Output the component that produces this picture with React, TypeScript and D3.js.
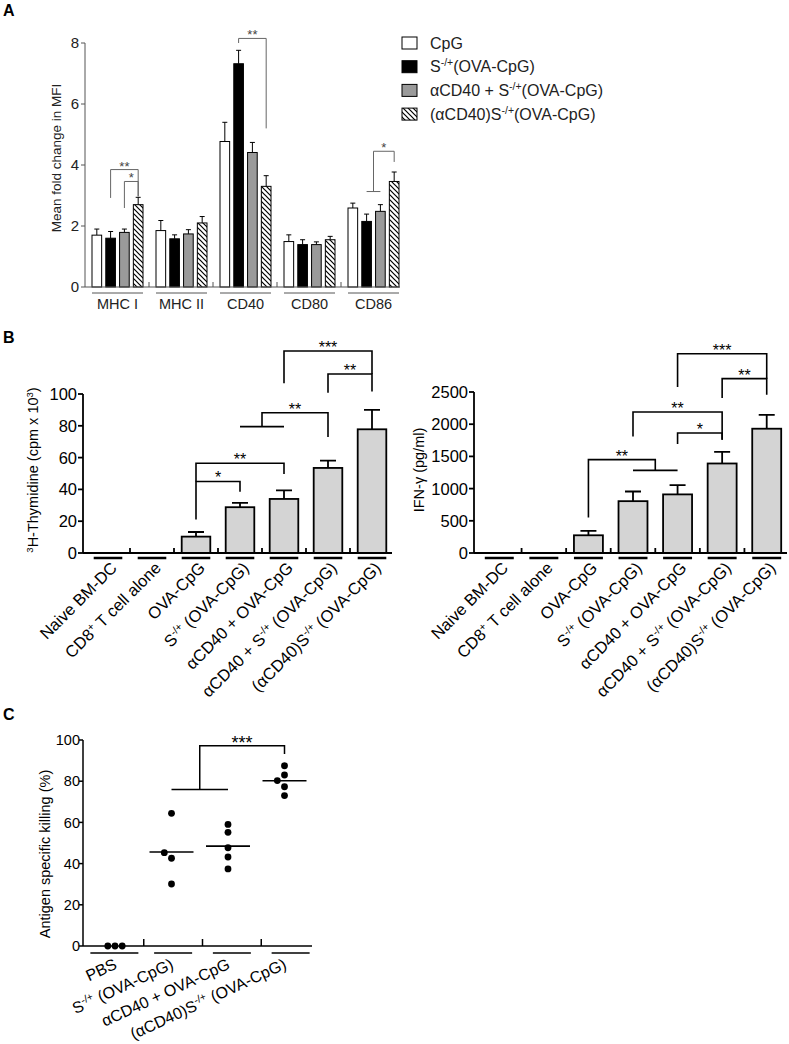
import React from "react";
import * as d3 from "d3";

const FONT = "'Liberation Sans', Arial, Helvetica, sans-serif";

// ---------- Panel A data ----------
const markers = ["MHC I", "MHC II", "CD40", "CD80", "CD86"];
const treatmentsA = ["CpG", "S^{-/+}(OVA-CpG)", "αCD40 + S^{-/+}(OVA-CpG)", "(αCD40)S^{-/+}(OVA-CpG)"];
const cpgMean = [1.7, 1.85, 4.77, 1.49, 2.59];
const cpgSem = [0.2, 0.33, 0.63, 0.22, 0.16];
const sMean = [1.6, 1.58, 7.32, 1.39, 2.15];
const sSem = [0.22, 0.13, 0.44, 0.16, 0.24];
const comboMean = [1.79, 1.74, 4.41, 1.39, 2.48];
const comboSem = [0.11, 0.14, 0.33, 0.09, 0.22];
const conjMean = [2.7, 2.1, 3.3, 1.55, 3.46];
const conjSem = [0.24, 0.21, 0.35, 0.11, 0.31];
const yTicksA = [0, 2, 4, 6, 8];
const sigA = [
  { group: 0, left: [1], right: [3], top: 3.85, leftEnd: 2.92, rightEnd: 2.97, label: "**" },
  { group: 0, left: [2], right: [3], top: 3.46, leftEnd: 2.59, rightEnd: 2.97, label: "*" },
  { group: 2, left: [1], right: [3], top: 8.15, leftEnd: 8.0, rightEnd: 5.2, label: "**" },
  { group: 4, left: [1, 2], right: [3], top: 4.45, leftEnd: 3.13, rightEnd: 4.1, label: "*" },
];

// ---------- Panel B data ----------
const categoriesB = [
  "Naive BM-DC",
  "CD8^{+} T cell alone",
  "OVA-CpG",
  "S^{-/+} (OVA-CpG)",
  "αCD40 + OVA-CpG",
  "αCD40 + S^{-/+} (OVA-CpG)",
  "(αCD40)S^{-/+} (OVA-CpG)",
];
const thymidineMean = [0, 0, 10.3, 28.8, 34, 53.5, 77.8];
const thymidineSem = [0, 0, 2.9, 2.7, 5.4, 4.6, 12.2];
const yTicksB1 = [0, 20, 40, 60, 80, 100];
const ifnMean = [0, 0, 275, 805, 910, 1390, 1930];
const ifnSem = [0, 0, 70, 150, 145, 180, 215];
const yTicksB2 = [0, 500, 1000, 1500, 2000, 2500];
const sigB1 = [
  { left: [2], right: [3], top: 45, leftEnd: 21, rightEnd: 38.5, label: "*" },
  { left: [2], right: [4], top: 56.4, leftEnd: 45, rightEnd: 49.7, label: "**" },
  { left: [3, 4], right: [5], top: 88.2, leftEnd: 79.5, rightEnd: 73, label: "**" },
  { left: [5], right: [6], top: 112.6, leftEnd: 100.8, rightEnd: 101.5, label: "**" },
  { left: [4], right: [6], top: 127, leftEnd: 106.7, rightEnd: 112.6, label: "***" },
];
const sigB2 = [
  { left: [2], right: [3, 4], top: 1450, leftEnd: 553, rightEnd: 1283, label: "**" },
  { left: [4], right: [5], top: 1863, leftEnd: 1692, rightEnd: 1760, label: "*" },
  { left: [3], right: [5], top: 2190, leftEnd: 1810, rightEnd: 1760, label: "**" },
  { left: [5], right: [6], top: 2707, leftEnd: 2407, rightEnd: 2458, label: "**" },
  { left: [4], right: [6], top: 3095, leftEnd: 2578, rightEnd: 2707, label: "***" },
];

// ---------- Panel C data ----------
const groupsC = ["PBS", "S^{-/+} (OVA-CpG)", "αCD40 + OVA-CpG", "(αCD40)S^{-/+} (OVA-CpG)"];
const killPBS = [0, 0, 0];
const killS = [64.4, 42.6, 30.1, 45.3];
const killCombo = [59.0, 55.2, 47.7, 43.2, 37.4];
const killConj = [87.5, 83.0, 77.3, 73.0, 80.3];
const yTicksC = [0, 20, 40, 60, 80, 100];
const sigC = [{ left: [1, 2], right: [3], top: 97.2, leftEnd: 76, rightEnd: 93.2, label: "***" }];

// ---------- helpers ----------
function Rich({ text, supSize, shift }: { text: string; supSize: number; shift: number }) {
  const parts: { t: string; sup: boolean }[] = [];
  const re = /\^\{([^}]*)\}/g;
  let last = 0;
  let m: RegExpExecArray | null;
  while ((m = re.exec(text))) {
    if (m.index > last) parts.push({ t: text.slice(last, m.index), sup: false });
    parts.push({ t: m[1], sup: true });
    last = m.index + m[0].length;
  }
  if (last < text.length) parts.push({ t: text.slice(last), sup: false });
  let prevSup = false;
  return (
    <>
      {parts.map((p, i) => {
        const dy = p.sup && !prevSup ? -shift : !p.sup && prevSup ? shift : 0;
        prevSup = p.sup;
        return (
          <tspan key={i} dy={dy || undefined} fontSize={p.sup ? supSize : undefined}>
            {p.t}
          </tspan>
        );
      })}
    </>
  );
}

type Sig = { left: number[]; right: number[]; top: number; leftEnd: number; rightEnd: number; label: string };

function Bracket({ s, cx, y, stroke, sw, fs, color, gap }: { s: Sig; cx: (i: number) => number; y: (v: number) => number; stroke: string; sw: number; fs: number; color: string; gap: number }) {
  const lx = s.left.map(cx);
  const rx = s.right.map(cx);
  const lm = d3.mean(lx) as number;
  const rm = d3.mean(rx) as number;
  let d = "";
  if (lx.length > 1) d += `M${lx[0]},${y(s.leftEnd)}H${lx[lx.length - 1]}`;
  d += `M${lm},${y(s.leftEnd)}V${y(s.top)}H${rm}V${y(s.rightEnd)}`;
  if (rx.length > 1) d += `M${rx[0]},${y(s.rightEnd)}H${rx[rx.length - 1]}`;
  return (
    <g>
      <path d={d} fill="none" stroke={stroke} strokeWidth={sw} />
      <text x={(lm + rm) / 2} y={y(s.top) + gap} textAnchor="middle" fontSize={fs} fill={color}>
        {s.label}
      </text>
    </g>
  );
}

function dodge(values: number[], y: (v: number) => number, d: number) {
  const placed: { x: number; y: number }[] = [];
  const offsets = [0, -1, 1, -2, 2, -3, 3];
  return values.map((v) => {
    const py = y(v);
    for (const o of offsets) {
      const px = o * d;
      if (placed.every((p) => Math.hypot(p.x - px, p.y - py) >= d * 0.95)) {
        placed.push({ x: px, y: py });
        return px;
      }
    }
    return 0;
  });
}

// ---------- Panel A ----------
function PanelA() {
  const y = d3.scaleLinear().domain([0, 8]).range([287, 43]);
  const x = d3.scaleBand().domain(markers).range([85, 405]);
  const inner = d3.scaleBand<number>().domain([0, 1, 2, 3]).range([7, 58]).paddingInner(0.3);
  const bw = inner.bandwidth();
  const means = [cpgMean, sMean, comboMean, conjMean];
  const sems = [cpgSem, sSem, comboSem, conjSem];
  const fills = ["#ffffff", "#000000", "#9a9a9a", "url(#hatch)"];
  const axis = "#555";
  const x0 = 85;
  const y0 = y(0);
  return (
    <g>
      <text x={3} y={16} fontSize={16} fontWeight="bold">A</text>
      {markers.map((m, g) =>
        means.map((arr, i) => {
          const bx = (x(m) as number) + (inner(i) as number);
          const cx = bx + bw / 2;
          const top = y(arr[g]);
          const et = y(arr[g] + sems[i][g]);
          return (
            <g key={m + i}>
              <path d={`M${cx},${top}V${et}M${cx - 2.5},${et}H${cx + 2.5}`} stroke="#000" strokeWidth={1} />
              <rect x={bx} y={top} width={bw} height={y0 - top} fill={fills[i]} stroke="#000" strokeWidth={1} />
            </g>
          );
        })
      )}
      <line x1={x0} x2={x0} y1={y0} y2={y(8)} stroke={axis} strokeWidth={1} />
      <line x1={x0} x2={400} y1={y0} y2={y0} stroke={axis} strokeWidth={1} />
      {yTicksA.map((t) => (
        <g key={t}>
          <line x1={x0 - 4} x2={x0} y1={y(t)} y2={y(t)} stroke={axis} />
          <text x={x0 - 6} y={y(t)} dy="0.36em" textAnchor="end" fontSize={15} fill="#222">{t}</text>
        </g>
      ))}
      {markers.slice(1).map((m) => (
        <line key={m} x1={x(m) as number} x2={x(m) as number} y1={y0} y2={y0 - 5} stroke={axis} />
      ))}
      {markers.map((m) => {
        const gx = (x(m) as number) + 7;
        return (
          <g key={m}>
            <line x1={gx} x2={gx + 51} y1={293} y2={293} stroke={axis} />
            <text x={gx + 25.5} y={309} textAnchor="middle" fontSize={14.5} fill="#222">{m}</text>
          </g>
        );
      })}
      <text transform={`translate(61,158) rotate(-90)`} textAnchor="middle" fontSize={13.5} fill="#222">
        Mean fold change in MFI
      </text>
      {sigA.map((s, k) => (
        <Bracket
          key={k}
          s={s}
          cx={(i) => (x(markers[s.group]) as number) + (inner(i) as number) + bw / 2}
          y={y}
          stroke="#666"
          sw={1}
          fs={13}
          color="#444"
          gap={1}
        />
      ))}
      {treatmentsA.map((t, i) => {
        const cy = 43 + i * 23.7;
        return (
          <g key={t}>
            <rect x={402} y={cy - 6} width={15} height={12} fill={fills[i]} stroke="#000" strokeWidth={1} />
            <text x={430} y={cy + 5.5} fontSize={16} fill="#222">
              <Rich text={t} supSize={10.5} shift={6} />
            </text>
          </g>
        );
      })}
    </g>
  );
}

// ---------- Panel B ----------
function BarChartB({ x0, x1, yMax, yTop, ticks, mean, sem, sig, label, labelX }: any) {
  const y = d3.scaleLinear().domain([0, yMax]).range([553, yTop]);
  const x = d3.scaleBand().domain(categoriesB).range([x0, x1]).paddingInner(0.35).paddingOuter(0.175);
  const bw = x.bandwidth();
  const step = x.step();
  const y0 = y(0);
  const cx = (i: number) => (x(categoriesB[i]) as number) + bw / 2;
  return (
    <g>
      {categoriesB.map((c, i) => {
        if (mean[i] <= 0) return null;
        const bx = x(c) as number;
        const top = y(mean[i]);
        const et = y(mean[i] + sem[i]);
        return (
          <g key={c}>
            <path d={`M${cx(i)},${top}V${et}M${cx(i) - 8},${et}H${cx(i) + 8}`} stroke="#000" strokeWidth={1.8} fill="none" />
            <rect x={bx} y={top} width={bw} height={y0 - top} fill="#d4d4d4" stroke="#000" strokeWidth={1.8} />
          </g>
        );
      })}
      <line x1={x0 - 3} x2={x0 - 3} y1={y0} y2={y(yMax)} stroke="#000" strokeWidth={1.8} />
      <line x1={x0 - 3} x2={x1 - 2} y1={y0} y2={y0} stroke="#000" strokeWidth={1.8} />
      {ticks.map((t: number) => (
        <g key={t}>
          <line x1={x0 - 8} x2={x0 - 3} y1={y(t)} y2={y(t)} stroke="#000" strokeWidth={1.8} />
          <text x={x0 - 9} y={y(t)} dy="0.36em" textAnchor="end" fontSize={16.5}>{t}</text>
        </g>
      ))}
      {categoriesB.slice(1).map((c, i) => {
        const bx = x0 + (i + 1) * step;
        return <line key={c} x1={bx} x2={bx} y1={y0} y2={y0 - 5} stroke="#000" strokeWidth={1.8} />;
      })}
      {categoriesB.map((c, i) => (
        <g key={c}>
          <line x1={x(c) as number} x2={(x(c) as number) + bw} y1={558} y2={558} stroke="#000" strokeWidth={2.5} />
          <text transform={`translate(${cx(i) + 10},569) rotate(-45)`} textAnchor="end" fontSize={16.5}>
            <Rich text={c} supSize={10.5} shift={6} />
          </text>
        </g>
      ))}
      <text transform={`translate(${labelX},470) rotate(-90)`} textAnchor="middle" fontSize={14.5}>
        <Rich text={label} supSize={9.5} shift={5} />
      </text>
      {sig.map((s: Sig, k: number) => (
        <Bracket key={k} s={s} cx={cx} y={y} stroke="#000" sw={1.6} fs={16} color="#000" gap={2} />
      ))}
    </g>
  );
}

// ---------- Panel C ----------
function PanelC() {
  const y = d3.scaleLinear().domain([0, 100]).range([946, 740]);
  const x = d3.scaleBand().domain(groupsC).range([85, 320]);
  const xd = d3.scalePoint().domain(groupsC).range([115, 284.5]);
  const data = [killPBS, killS, killCombo, killConj];
  const y0 = y(0);
  const r = 3.4;
  const ulw = 38;
  return (
    <g>
      <text x={3} y={720} fontSize={16} fontWeight="bold">C</text>
      <line x1={83} x2={83} y1={y0} y2={y(100)} stroke="#000" strokeWidth={1.5} />
      <line x1={83} x2={312} y1={y0} y2={y0} stroke="#000" strokeWidth={1.5} />
      {yTicksC.map((t) => (
        <g key={t}>
          <line x1={79} x2={83} y1={y(t)} y2={y(t)} stroke="#000" strokeWidth={1.5} />
          <text x={80} y={y(t)} dy="0.36em" textAnchor="end" fontSize={14.5}>{t}</text>
        </g>
      ))}
      {groupsC.slice(1).map((g) => (
        <line key={g} x1={x(g) as number} x2={x(g) as number} y1={y0} y2={y0 - 7} stroke="#000" strokeWidth={1.5} />
      ))}
      {groupsC.map((g, i) => {
        const c = (x(g) as number) + x.bandwidth() / 2;
        const w = i === 0 ? 48 : ulw;
        return <line key={g} x1={c - w / 2} x2={c + w / 2} y1={953} y2={953} stroke="#000" strokeWidth={1.5} />;
      })}
      {data.map((vals, i) => {
        const cx = xd(groupsC[i]) as number;
        const offs = dodge(vals, y, 7.2);
        const mean = d3.mean(vals) as number;
        return (
          <g key={i}>
            {i > 0 && <line x1={cx - 22} x2={cx + 22} y1={y(mean)} y2={y(mean)} stroke="#000" strokeWidth={1.6} />}
            {vals.map((v, k) => (
              <circle key={k} cx={cx + offs[k]} cy={y(v)} r={r} fill="#000" />
            ))}
          </g>
        );
      })}
      {groupsC.map((g) => (
        <text key={g} transform={`translate(${(xd(g) as number) + 3},968) rotate(-25)`} textAnchor="end" fontSize={16}>
          <Rich text={g} supSize={10.5} shift={6} />
        </text>
      ))}
      <text transform={`translate(50,854) rotate(-90)`} textAnchor="middle" fontSize={14.5}>
        Antigen specific killing (%)
      </text>
      {sigC.map((s, k) => (
        <Bracket key={k} s={s} cx={(i) => xd(groupsC[i]) as number} y={y} stroke="#000" sw={1.5} fs={18} color="#000" gap={3} />
      ))}
    </g>
  );
}

export default function App() {
  return (
    <svg
      width={789}
      height={1044}
      viewBox="0 0 789 1044"
      style={{ position: "absolute", left: 0, top: 0, background: "#fff" }}
      fontFamily={FONT}
    >
      <defs>
        <pattern id="hatch" patternUnits="userSpaceOnUse" width={5} height={5}>
          <rect width={5} height={5} fill="#fff" />
          <path d="M-1,-1L6,6M-1,4L1,6M4,-1L6,1" stroke="#000" strokeWidth={1.2} />
        </pattern>
      </defs>
      <rect width={789} height={1044} fill="#fff" />
      <PanelA />
      <text x={3} y={343} fontSize={16} fontWeight="bold">B</text>
      <BarChartB
        x0={86}
        x1={394}
        yMax={100}
        yTop={394}
        ticks={yTicksB1}
        mean={thymidineMean}
        sem={thymidineSem}
        sig={sigB1}
        label="^{3}H-Thymidine (cpm x 10^{3})"
        labelX={38}
      />
      <BarChartB
        x0={477}
        x1={789}
        yMax={2500}
        yTop={392}
        ticks={yTicksB2}
        mean={ifnMean}
        sem={ifnSem}
        sig={sigB2}
        label="IFN-γ (pg/ml)"
        labelX={424}
      />
      <PanelC />
    </svg>
  );
}
